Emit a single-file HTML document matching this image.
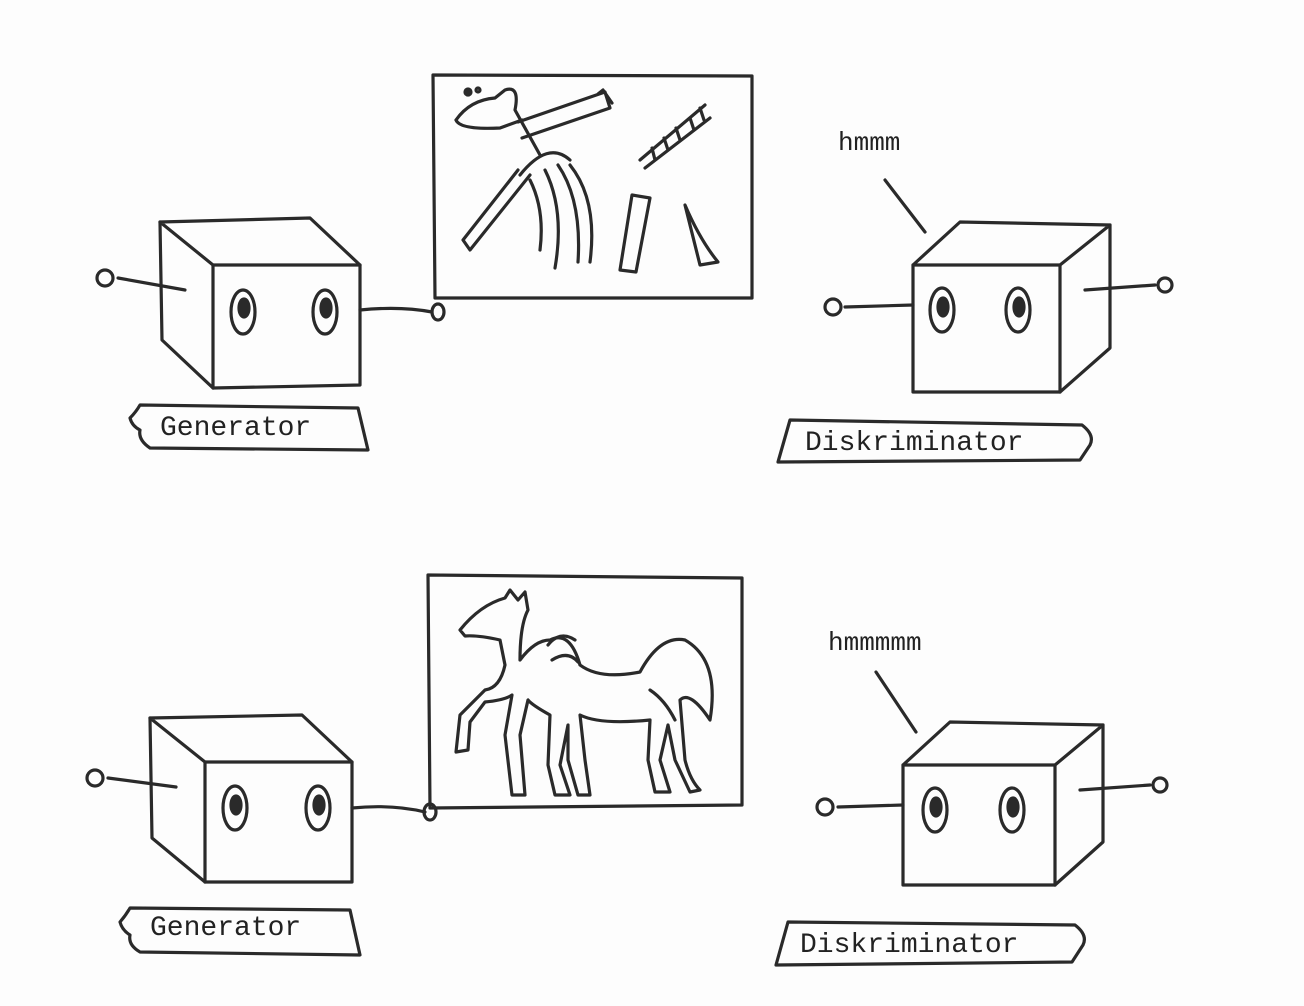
<!DOCTYPE html>
<html><head><meta charset="utf-8"><style>
html,body{margin:0;padding:0;background:#fff;}
svg{display:block}
text{font-family:"Liberation Mono","DejaVu Sans Mono",monospace;fill:#222}
</style></head><body>
<svg width="1304" height="1006" viewBox="0 0 1304 1006" stroke="#2a2a2a" stroke-width="3.2" fill="none" stroke-linecap="round" stroke-linejoin="round">
<rect x="0" y="0" width="1304" height="1006" fill="#fdfdfd" stroke="none"/>

<!-- TOP ROW -->
<g>
  <path d="M160,222 L310,218 L360,265 L213,265 Z"/>
  <path d="M160,222 L162,340 L213,388 L213,265"/>
  <path d="M213,388 L360,385 L360,265"/>
  <ellipse cx="243" cy="312" rx="12" ry="22"/><ellipse cx="244" cy="308" rx="5" ry="9" fill="#2a2a2a"/>
  <ellipse cx="325" cy="312" rx="12" ry="22"/><ellipse cx="326" cy="308" rx="5" ry="9" fill="#2a2a2a"/>
  <path d="M185,290 L118,278"/><circle cx="105" cy="278" r="8"/>
  <path d="M360,310 Q400,306 432,312"/><ellipse cx="438" cy="312" rx="6" ry="8"/>
</g>
<g>
  <path d="M140,405 L358,408 L368,450 L150,448 Q138,440 140,430 Q132,426 130,418 Q136,412 140,405 Z"/>
  <text x="160" y="435" font-size="28" stroke="none">Generator</text>
</g>
<g>
  <path d="M433,75 L752,76 L752,298 L435,298 Z"/>
  <path d="M456,120 Q470,100 495,98 L505,90 Q520,85 515,110 L540,155 M456,120 Q460,130 500,128 L522,120" />
  <circle cx="468" cy="92" r="3" fill="#2a2a2a"/><circle cx="478" cy="90" r="2"/>
  <path d="M518,122 L605,92 L610,108 L522,138 M598,94 L603,90 L612,103"/>
  <path d="M518,170 L463,240 L470,250 L530,175"/>
  <path d="M520,175 Q548,140 570,160 M530,180 Q545,210 540,250 M545,170 Q565,210 555,268 M558,165 Q582,200 578,262 M570,165 Q598,200 590,262"/>
  <path d="M632,195 L620,270 L636,272 L650,198 Z"/>
  <path d="M685,205 L700,265 L718,262 Q700,240 685,205 Z"/>
  <path d="M640,160 L705,105 M645,168 L710,118 M652,148 L655,160 M664,138 L668,150 M676,128 L680,140 M690,118 L694,130 M700,108 L704,120"/>
</g>
<g>
  <path d="M913,265 L960,222 L1110,225 L1060,265 Z"/>
  <path d="M913,265 L913,392 L1060,392 L1060,265"/>
  <path d="M1060,392 L1110,348 L1110,225"/>
  <ellipse cx="942" cy="310" rx="12" ry="22"/><ellipse cx="943" cy="307" rx="5" ry="9" fill="#2a2a2a"/>
  <ellipse cx="1018" cy="310" rx="12" ry="22"/><ellipse cx="1019" cy="307" rx="5" ry="9" fill="#2a2a2a"/>
  <path d="M913,305 L845,307"/><circle cx="833" cy="307" r="8"/>
  <path d="M1085,290 L1155,285"/><circle cx="1165" cy="285" r="7"/>
  <path d="M885,180 L925,232"/>
  <text x="838" y="150" font-size="26" stroke="none" font-family="Liberation Sans, sans-serif">hmmm</text>
</g>
<g>
  <path d="M790,420 L1082,425 Q1095,435 1090,445 L1080,460 L778,462 Z"/>
  <text x="805" y="450" font-size="28" stroke="none">Diskriminator</text>
</g>

<!-- BOTTOM ROW -->
<g>
  <path d="M150,718 L302,715 L352,762 L205,762 Z"/>
  <path d="M150,718 L152,838 L205,882 L205,762"/>
  <path d="M205,882 L352,882 L352,762"/>
  <ellipse cx="235" cy="808" rx="12" ry="22"/><ellipse cx="236" cy="805" rx="5" ry="9" fill="#2a2a2a"/>
  <ellipse cx="318" cy="808" rx="12" ry="22"/><ellipse cx="319" cy="805" rx="5" ry="9" fill="#2a2a2a"/>
  <path d="M176,787 L108,778"/><circle cx="95" cy="778" r="8"/>
  <path d="M352,808 Q392,804 425,812"/><ellipse cx="430" cy="812" rx="6" ry="8"/>
</g>
<g>
  <path d="M130,908 L350,910 L360,955 L140,952 Q128,945 130,935 Q122,930 120,922 Q126,915 130,908 Z"/>
  <text x="150" y="935" font-size="28" stroke="none">Generator</text>
</g>
<g>
  <path d="M428,575 L742,578 L742,805 L430,808 Z"/>
  <path d="M460,630 Q480,605 505,598 L510,590 L518,600 L525,592 L528,610 Q520,625 520,660 Q535,640 550,640 Q570,630 580,665 Q600,680 640,672 Q660,635 685,640 Q720,660 710,720 Q690,690 680,700 L685,760 Q690,780 700,790 L690,792 L675,760 L668,725 L660,760 L670,792 L655,792 L648,760 L650,720 Q600,725 580,715 L585,760 L590,795 L578,795 L568,760 L568,725 L560,765 L570,795 L555,795 L548,765 L550,715 Q532,705 528,700 L520,735 L525,795 L512,795 L505,735 L512,695 Q505,700 485,702 L470,722 L468,750 L456,752 L460,715 L485,690 Q500,688 505,665 L500,640 Q478,635 465,636 Z"/>
  <path d="M548,645 Q560,630 575,640 M552,660 Q568,650 578,662 M650,690 Q665,700 675,720"/>
</g>
<g>
  <path d="M903,765 L950,722 L1103,725 L1055,765 Z"/>
  <path d="M903,765 L903,885 L1055,885 L1055,765"/>
  <path d="M1055,885 L1103,842 L1103,725"/>
  <ellipse cx="935" cy="810" rx="12" ry="22"/><ellipse cx="936" cy="807" rx="5" ry="9" fill="#2a2a2a"/>
  <ellipse cx="1012" cy="810" rx="12" ry="22"/><ellipse cx="1013" cy="807" rx="5" ry="9" fill="#2a2a2a"/>
  <path d="M903,805 L838,807"/><circle cx="825" cy="807" r="8"/>
  <path d="M1080,790 L1150,785"/><circle cx="1160" cy="785" r="7"/>
  <path d="M876,672 L916,732"/>
  <text x="828" y="650" font-size="26" stroke="none" font-family="Liberation Sans, sans-serif">hmmmmm</text>
</g>
<g>
  <path d="M788,922 L1075,925 Q1088,935 1083,945 L1072,962 L776,965 Z"/>
  <text x="800" y="952" font-size="28" stroke="none">Diskriminator</text>
</g>
</svg>
</body></html>
